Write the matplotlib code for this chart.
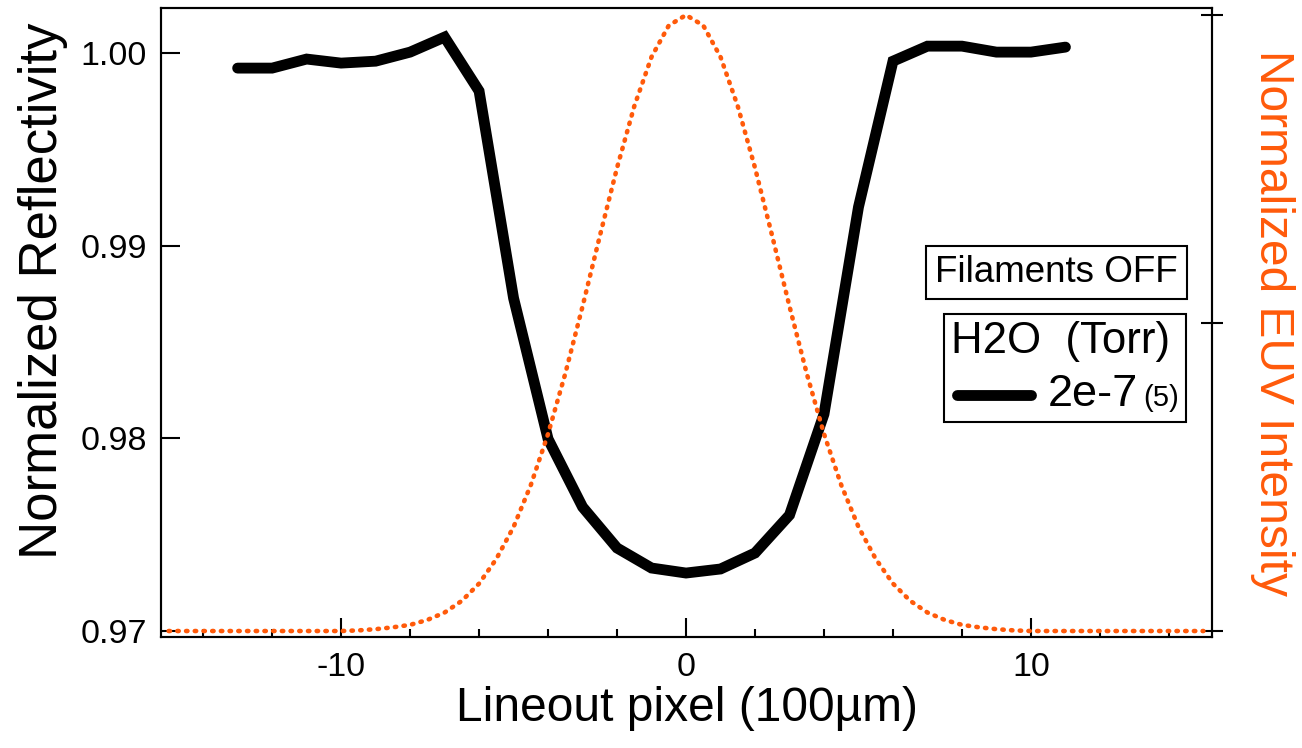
import numpy as np
import matplotlib
matplotlib.use("Agg")
import matplotlib.pyplot as plt
from matplotlib.lines import Line2D
from matplotlib.ticker import MultipleLocator
from matplotlib.offsetbox import (AnchoredOffsetbox, TextArea, DrawingArea,
                                  HPacker, VPacker)

plt.rcParams['font.family'] = ['Liberation Sans', 'DejaVu Sans']
plt.rcParams['axes.unicode_minus'] = False

# reflectivity lineout (black)
pixel = [-13, -12, -11, -10, -9, -8, -7, -6, -5, -4, -3, -2, -1, 0,
         1, 2, 3, 4, 5, 6, 7, 8, 9, 10, 11]
reflectivity = [0.99922, 0.99922, 0.99969, 0.99948, 0.99958, 1.00005, 1.00083,
                0.99803, 0.98728, 0.97997, 0.97644, 0.97431, 0.97327, 0.97301,
                0.97322, 0.97405, 0.97602, 0.98126, 0.99201, 0.99958, 1.00036,
                1.00036, 1.00005, 1.00005, 1.00031]

# EUV beam profile (orange), read at half-pixel steps
euv_pixel = [-15.0, -14.5, -14.0, -13.5, -13.0, -12.5, -12.0, -11.5, -11.0,
             -10.5, -10.0, -9.5, -9.0, -8.5, -8.0, -7.5, -7.0, -6.5, -6.0,
             -5.5, -5.0, -4.5, -4.0, -3.5, -3.0, -2.5, -2.0, -1.5, -1.0,
             -0.5, 0.0, 0.5, 1.0, 1.5, 2.0, 2.5, 3.0, 3.5, 4.0, 4.5, 5.0,
             5.5, 6.0, 6.5, 7.0, 7.5, 8.0, 8.5, 9.0, 9.5, 10.0, 10.5, 11.0,
             11.5, 12.0, 12.5, 13.0, 13.5, 14.0, 14.5, 15.0]
euv_intensity = [0.0, 0.0, 0.0, 0.0, 0.0, 0.0, 0.0, 0.0, 0.0,
                 0.0, 0.0, 0.001, 0.003, 0.006, 0.010, 0.018, 0.030, 0.049,
                 0.077, 0.117, 0.169, 0.237, 0.320, 0.418, 0.527, 0.641,
                 0.752, 0.852, 0.932, 0.983, 1.000, 0.983, 0.932, 0.852,
                 0.752, 0.641, 0.527, 0.418, 0.320, 0.237, 0.169, 0.117,
                 0.077, 0.049, 0.030, 0.018, 0.010, 0.006, 0.003, 0.001,
                 0.0, 0.0, 0.0, 0.0, 0.0, 0.0, 0.0, 0.0, 0.0, 0.0, 0.0]

orange = '#FF5A0A'

fig = plt.figure(figsize=(13.02, 7.48), dpi=100)
ax = fig.add_axes([0.1237, 0.1484, 0.8072, 0.8409])
ax2 = ax.twinx()

ax.plot(pixel, reflectivity, color='black', lw=7.8, solid_joinstyle='miter',
        solid_capstyle='round', zorder=3)
ax2.plot(euv_pixel, euv_intensity, color=orange, lw=3.3,
         linestyle=(0, (0.3, 1.6)), dash_capstyle='round')

ax.set_xlim(-15.22, 15.25)
ax.set_ylim(0.96969, 1.00234)
ax2.set_ylim(-0.0097, 1.0114)

ax.set_yticks([0.97, 0.98, 0.99, 1.00])
ax.set_yticklabels(['0.97', '0.98', '0.99', '1.00'])
ax.set_xticks([-10, 0, 10])
ax.xaxis.set_minor_locator(MultipleLocator(2))
ax.tick_params(axis='both', which='major', direction='in', length=13.5,
               width=1.5, labelsize=24.5, pad=10)
ax.tick_params(axis='x', which='major', pad=11)
ax.tick_params(axis='x', which='minor', direction='in', length=6, width=1.5)
ax.tick_params(axis='y', right=False)

ax2.set_yticks([0, 0.5, 1])
ax2.set_yticklabels([])
ax2.tick_params(axis='y', direction='inout', length=16, width=1.5)

for a in (ax, ax2):
    for s in a.spines.values():
        s.set_linewidth(1.5)

ax.set_xlabel('Lineout pixel (100µm)', fontsize=34.5, labelpad=2)
ax.set_ylabel('Normalized Reflectivity', fontsize=38, labelpad=9)
ax.yaxis.label.set_y(0.55)
ax2.set_ylabel('Normalized EUV Intensity', fontsize=34.5, color=orange,
               rotation=-90, va='bottom', labelpad=16)

# annotation box
ax2.text(0.9676, 0.5795, 'Filaments OFF', transform=ax2.transAxes,
         fontsize=26.5, ha='right', va='center', zorder=10,
         bbox=dict(boxstyle='square,pad=0.25', fc='white', ec='black', lw=1.5))

# legend box
title = TextArea('H2O  (Torr)', textprops=dict(fontsize=31.5))
da = DrawingArea(61, 22, 0, 0)
da.add_artist(Line2D([3.9, 57.1], [11, 11], color='black', lw=7.8,
                     solid_capstyle='round'))
t1 = TextArea('2e-7', textprops=dict(fontsize=32.5))
t2 = TextArea('(5)', textprops=dict(fontsize=21))
row = HPacker(children=[da, HPacker(children=[t1, t2], align='baseline', pad=0, sep=4)],
              align='center', pad=0, sep=8)
box = VPacker(children=[title, row], align='left', pad=0, sep=9)
anch = AnchoredOffsetbox(loc='upper right', child=box, pad=0.5, borderpad=0,
                         frameon=True, bbox_to_anchor=(0.975, 0.5135),
                         bbox_transform=ax2.transAxes)
anch.patch.set_linewidth(1.5)
anch.patch.set_edgecolor('black')
anch.zorder = 10
ax2.add_artist(anch)

fig.savefig('out.png', dpi=100)
